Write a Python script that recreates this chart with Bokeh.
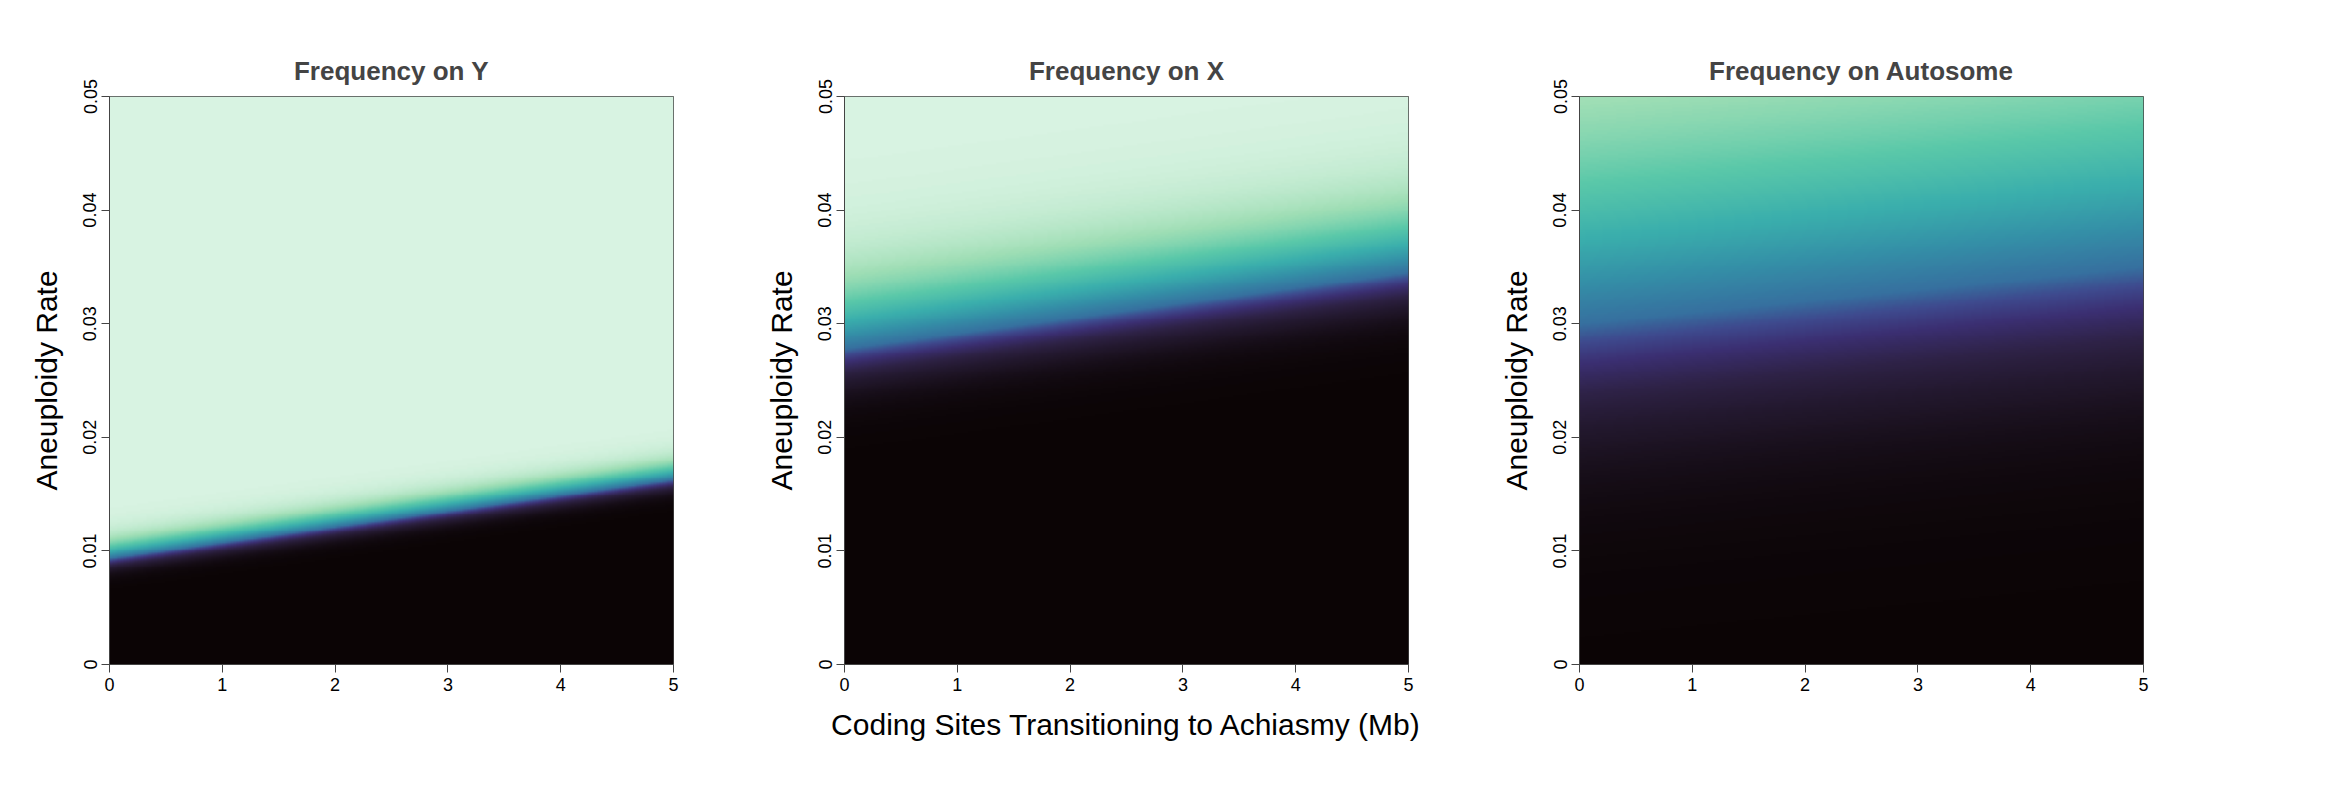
import numpy as np
from bokeh.plotting import figure
from bokeh.layouts import row
from bokeh.models import LinearColorMapper, FixedTicker, Title
from bokeh.embed import file_html
from bokeh.resources import INLINE

# Panel data
titles = ["Frequency on Y", "Frequency on X", "Frequency on Autosome"]
mid_at_0 = [0.0093, 0.0278, 0.0300]   # aneuploidy rate of 50% frequency at 0 Mb
mid_at_5 = [0.0162, 0.0345, 0.0350]   # ... at 5 Mb
spread_lo = [0.0005, 0.0016, 0.0050]
spread_hi = [0.0008, 0.0030, 0.0090]
x_ticks = [0, 1, 2, 3, 4, 5]
y_ticks = [0, 0.01, 0.02, 0.03, 0.04, 0.05]
y_tick_labels = ["0", "0.01", "0.02", "0.03", "0.04", "0.05"]

# mako-like palette
anchors = [(0.0, "#0B0405"), (0.1, "#1E1425"), (0.22, "#2E2246"), (0.33, "#3B2F72"),
           (0.42, "#3E4A8E"), (0.5, "#36709F"), (0.6, "#348FA7"), (0.7, "#3AAFAC"),
           (0.8, "#5AC8A9"), (0.9, "#9FDEB5"), (1.0, "#D8F3E2")]
def hx(c):
    return np.array([int(c[i:i+2], 16) for i in (1, 3, 5)], float)
pal = []
for t in np.linspace(0, 1, 256):
    for (a, ca), (b, cb) in zip(anchors[:-1], anchors[1:]):
        if a <= t <= b:
            f = (t - a) / (b - a)
            c = hx(ca) * (1 - f) + hx(cb) * f
            pal.append("#%02x%02x%02x" % tuple(int(round(v)) for v in c))
            break
mapper = LinearColorMapper(palette=pal, low=0, high=1)

xs = np.linspace(0, 5, 200)
ys = np.linspace(0, 0.05, 300)
X, Y = np.meshgrid(xs, ys)

figs = []
for i in range(3):
    m = mid_at_0[i] + (mid_at_5[i] - mid_at_0[i]) * X / 5
    s = np.where(Y < m, spread_lo[i], spread_hi[i])
    Z = 1 / (1 + np.exp(-(Y - m) / s))
    p = figure(frame_width=564, frame_height=568, x_range=(0, 5), y_range=(0, 0.05),
               output_backend="svg", toolbar_location=None,
               min_border_left=109, min_border_right=62, min_border_top=96,
               min_border_bottom=120)
    p.title = Title(text=titles[i], align="center", text_font="Liberation Sans",
                    text_font_size="26px", text_font_style="bold", standoff=22)
    p.image(image=[Z], x=0, y=0, dw=5, dh=0.05, color_mapper=mapper)
    p.xgrid.visible = False
    p.ygrid.visible = False
    p.outline_line_color = "#444444"
    p.outline_line_width = 1
    p.xaxis.ticker = FixedTicker(ticks=x_ticks)
    p.yaxis.ticker = FixedTicker(ticks=y_ticks)
    p.yaxis.major_label_overrides = {t: l for t, l in zip(y_ticks, y_tick_labels)}
    p.yaxis.major_label_orientation = "vertical"
    for ax in (p.xaxis, p.yaxis):
        ax.minor_tick_line_color = None
        ax.major_tick_out = 8
        ax.major_tick_in = 0
        ax.axis_line_color = "#444444"
        ax.major_tick_line_color = "#444444"
        ax.major_label_text_font = "Liberation Sans"
        ax.major_label_text_font_size = "18px"
        ax.major_label_text_color = "black"
        ax.axis_label_text_font = "Liberation Sans"
        ax.axis_label_text_font_size = "30px"
        ax.axis_label_text_font_style = "normal"
        ax.axis_label_text_color = "black"
    p.yaxis.axis_label = "Aneuploidy Rate"
    p.yaxis.axis_label_standoff = 18
    if i == 1:
        p.xaxis.axis_label = "Coding Sites Transitioning to Achiasmy (Mb)"
        p.xaxis.axis_label_standoff = 14
    figs.append(p)

layout = row(*figs, spacing=0)
open("out.html", "w").write(file_html(layout, INLINE))
